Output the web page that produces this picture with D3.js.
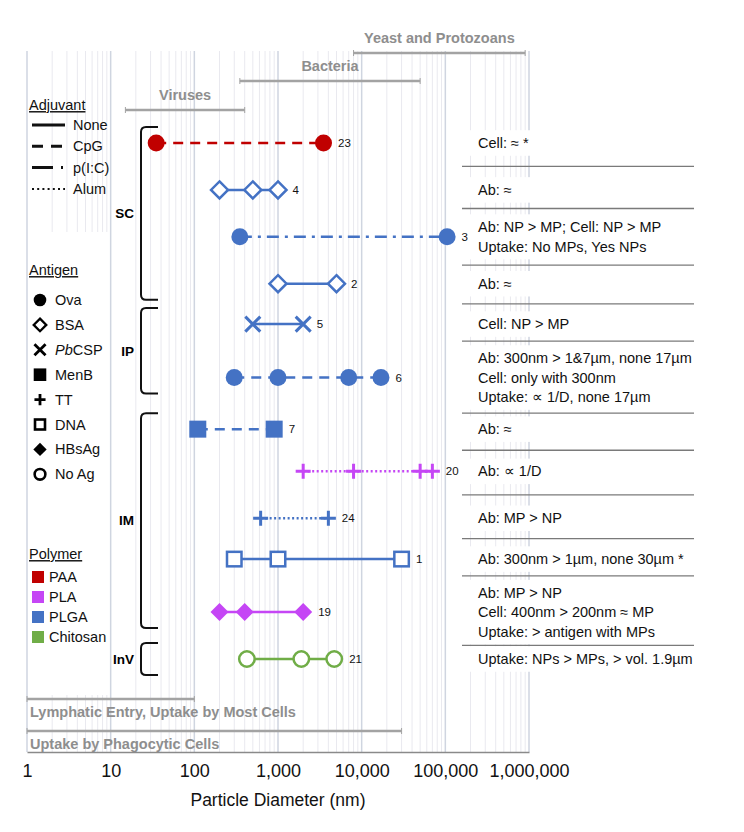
<!DOCTYPE html>
<html>
<head>
<meta charset="utf-8">
<script src="https://cdn.jsdelivr.net/npm/d3@7"></script>
<style>
  body { margin: 0; background: #fff; }
  svg  { display: block; font-family: "Liberation Sans", Arial, sans-serif; }
</style>
</head>
<body>
<svg id="chart" width="744" height="832"></svg>
<script>
'use strict';

// one entry per study row, top to bottom
var refs      = [23, 4, 3, 2, 5, 6, 7, 20, 24, 1, 19, 21]
  , rowPos    = [1, 2, 3, 4, 4.86, 6, 7.1, 8, 9, 9.87, 11, 12]
  , routes    = ['SC','SC','SC','SC','IP','IP','IM','IM','IM','IM','IM','InV']
  , polymers  = ['PAA','PLGA','PLGA','PLGA','PLGA','PLGA','PLGA','PLA','PLGA','PLGA','PLA','Chitosan']
  , antigens  = ['Ova','BSA','Ova','BSA','PbCSP','Ova','MenB','TT','TT','DNA','HBsAg','No Ag']
  , adjuvants = ['CpG','None','p(I:C)','None','None','CpG','CpG','Alum','Alum','None','None','None']
  , sizes     = [
      [35, 3500],
      [200, 500, 1000],
      [350, 105000],
      [1000, 5000],
      [500, 2000],
      [300, 1000, 7000, 17000],
      [110, 900],
      [2000, 8000, 50000, 70000],
      [620, 4000],
      [300, 1000, 30000],
      [200, 400, 2000],
      [425, 1900, 4700]
    ]
  , findings  = [
      ['Cell: \u2248 *'],
      ['Ab: \u2248'],
      ['Ab: NP > MP; Cell: NP > MP', 'Uptake: No MPs, Yes NPs'],
      ['Ab: \u2248'],
      ['Cell: NP > MP'],
      ['Ab: 300nm > 1&7\u00b5m, none 17\u00b5m', 'Cell: only with 300nm', 'Uptake: \u221d 1/D, none 17\u00b5m'],
      ['Ab: \u2248'],
      ['Ab: \u221d 1/D'],
      ['Ab: MP > NP'],
      ['Ab: 300nm > 1\u00b5m, none 30\u00b5m *'],
      ['Ab: MP > NP', 'Cell: 400nm > 200nm \u2248 MP', 'Uptake: > antigen with MPs'],
      ['Uptake: NPs > MPs, > vol. 1.9\u00b5m']
    ];

// reference size ranges (nm)
var rangeNames = ['Yeast and Protozoans', 'Bacteria', 'Viruses',
                  'Lymphatic Entry, Uptake by Most Cells', 'Uptake by Phagocytic Cells']
  , rangeFrom  = [8000, 350, 15, 1, 1]
  , rangeTo    = [900000, 50000, 400, 100, 30000];

var routeNames    = ['SC', 'IP', 'IM', 'InV']
  , adjuvantNames = ['None', 'CpG', 'p(I:C)', 'Alum']
  , antigenNames  = ['Ova', 'BSA', 'PbCSP', 'MenB', 'TT', 'DNA', 'HBsAg', 'No Ag']
  , polymerNames  = ['PAA', 'PLA', 'PLGA', 'Chitosan']
  , tickValues    = [1, 10, 100, 1000, 10000, 100000, 1000000];

// styles
var polymerColor = { 'PAA': '#c00000', 'PLA': '#c546f5', 'PLGA': '#4472c4', 'Chitosan': '#70ad47' }
  , adjuvantDash = { 'None': null, 'CpG': '10,7', 'p(I:C)': '12,6,3,6', 'Alum': '2,2.5' }
  , gray = '#a3a3a3'
  , grayText = '#8e8e8e';

var svg = d3.select('#chart');

var x = d3.scaleLog().domain([1, 1e6]).range([27, 529])
  , y = d3.scaleLinear().domain([1, 12]).range([143, 659])
  , gridTop = 51
  , axisY = 752;

// gridlines
var grid = svg.append('g');
grid.selectAll('line')
    .data(x.ticks())
  .enter().append('line')
    .attr('x1', function(d){ return x(d); })
    .attr('x2', function(d){ return x(d); })
    .attr('y1', gridTop)
    .attr('y2', axisY)
    .attr('stroke', function(d){ return isMajor(d) ? '#cfd5e0' : '#e9e9ef'; })
    .attr('stroke-width', function(d){ return isMajor(d) ? 1.5 : 1; });

function isMajor(d){
  return Math.abs(Math.log10(d) - Math.round(Math.log10(d))) < 1e-9;
}

// white backings
svg.append('rect')
    .attr('x', 29).attr('y', 232).attr('width', 80).attr('height', 463)
    .attr('fill', '#fff');

var lineH = 19.5, noteX = 478;
var blocks = findings.map(function(lines, i){
  var cy = y(rowPos[i]), h = lines.length * lineH;
  return { lines: lines, cy: cy, top: cy - h / 2, bottom: cy + h / 2 };
});

svg.append('g').selectAll('rect')
    .data(blocks)
  .enter().append('rect')
    .attr('x', 470).attr('width', 226)
    .attr('y', function(d){ return d.top - 3; })
    .attr('height', function(d){ return d.bottom - d.top + 6; })
    .attr('fill', '#fff');

// size range bars
var bandY = [53, 81, 110, 699, 731];
var bands = svg.append('g');
rangeNames.forEach(function(name, i){
  var x0 = x(rangeFrom[i]), x1 = x(rangeTo[i]), by = bandY[i];
  bands.append('line')
      .attr('x1', x0).attr('x2', x1).attr('y1', by).attr('y2', by)
      .attr('stroke', gray).attr('stroke-width', 2.5);
  [x0, x1].forEach(function(cx){
    bands.append('line')
        .attr('x1', cx).attr('x2', cx).attr('y1', by - 3).attr('y2', by + 3)
        .attr('stroke', gray).attr('stroke-width', 1);
  });
  var top = i < 3;
  bands.append('text')
      .attr('x', top ? (x0 + x1) / 2 : 30)
      .attr('y', top ? by - 15 : by + 13)
      .attr('dy', '0.35em')
      .attr('text-anchor', top ? 'middle' : 'start')
      .attr('font-size', '14.5px')
      .attr('font-weight', 'bold')
      .attr('fill', grayText)
      .text(name);
});

// findings text + separators
var notes = svg.append('g').attr('font-size', '14.5px').attr('fill', '#111');
blocks.forEach(function(b, i){
  b.lines.forEach(function(t, j){
    notes.append('text')
        .attr('x', noteX)
        .attr('y', b.top + lineH * (j + 0.5))
        .attr('dy', '0.35em')
        .text(t);
  });
  if (i < blocks.length - 1){
    var sy = (b.bottom + blocks[i + 1].top) / 2;
    notes.append('line')
        .attr('x1', 462).attr('x2', 694).attr('y1', sy).attr('y2', sy)
        .attr('stroke', '#7a7a7a').attr('stroke-width', 1.3);
  }
});

// route brackets
var brackets = svg.append('g');
routeNames.forEach(function(r){
  var rows = rowPos.filter(function(p, i){ return routes[i] === r; })
    , y0 = y(d3.min(rows)) - 16
    , y1 = y(d3.max(rows)) + 16
    , bx = 141, ex = 158, rr = 5;
  brackets.append('path')
      .attr('d', 'M' + ex + ',' + y0 + 'L' + (bx + rr) + ',' + y0 +
                 'Q' + bx + ',' + y0 + ' ' + bx + ',' + (y0 + rr) +
                 'L' + bx + ',' + (y1 - rr) +
                 'Q' + bx + ',' + y1 + ' ' + (bx + rr) + ',' + y1 +
                 'L' + ex + ',' + y1)
      .attr('fill', 'none').attr('stroke', '#111').attr('stroke-width', 2);
  brackets.append('text')
      .attr('x', 134).attr('y', (y0 + y1) / 2).attr('dy', '0.35em')
      .attr('text-anchor', 'end')
      .attr('font-size', '13.5px').attr('font-weight', 'bold')
      .text(r);
});

// markers
var markerSize = { 'Ova': 8.5, 'BSA': 8.5, 'PbCSP': 7.5, 'MenB': 8.5, 'TT': 7.5, 'DNA': 8.5, 'HBsAg': 9, 'No Ag': 9 };

function drawMarker(g, type, s, color, sw){
  var diamond = 'M0,' + (-s) + 'L' + s + ',0L0,' + s + 'L' + (-s) + ',0Z';
  switch (type){
    case 'Ova':
      g.append('circle').attr('r', s).attr('fill', color); break;
    case 'BSA':
      g.append('path').attr('d', diamond).attr('fill', '#fff')
       .attr('stroke', color).attr('stroke-width', sw); break;
    case 'PbCSP':
      g.append('path').attr('d', 'M' + (-s) + ',' + (-s) + 'L' + s + ',' + s + 'M' + (-s) + ',' + s + 'L' + s + ',' + (-s))
       .attr('stroke', color).attr('stroke-width', sw + 0.5).attr('fill', 'none'); break;
    case 'MenB':
      g.append('rect').attr('x', -s).attr('y', -s).attr('width', 2 * s).attr('height', 2 * s)
       .attr('fill', color); break;
    case 'TT':
      g.append('path').attr('d', 'M' + (-s) + ',0H' + s + 'M0,' + (-s) + 'V' + s)
       .attr('stroke', color).attr('stroke-width', sw + 0.5).attr('fill', 'none'); break;
    case 'DNA':
      g.append('rect').attr('x', -s + sw / 2).attr('y', -s + sw / 2)
       .attr('width', 2 * s - sw).attr('height', 2 * s - sw)
       .attr('fill', '#fff').attr('stroke', color).attr('stroke-width', sw); break;
    case 'HBsAg':
      g.append('path').attr('d', diamond).attr('fill', color); break;
    case 'No Ag':
      g.append('circle').attr('r', s - sw / 2).attr('fill', '#fff')
       .attr('stroke', color).attr('stroke-width', sw); break;
  }
}

// series
var series = svg.append('g');
sizes.forEach(function(vals, i){
  var color = polymerColor[polymers[i]]
    , cy = y(rowPos[i])
    , s = markerSize[antigens[i]];
  series.append('line')
      .attr('x1', x(d3.min(vals))).attr('x2', x(d3.max(vals)))
      .attr('y1', cy).attr('y2', cy)
      .attr('stroke', color).attr('stroke-width', 2.5)
      .attr('stroke-dasharray', adjuvantDash[adjuvants[i]]);
  vals.forEach(function(v){
    var g = series.append('g').attr('transform', 'translate(' + x(v) + ',' + cy + ')');
    drawMarker(g, antigens[i], s, color, 2.5);
  });
  series.append('text')
      .attr('x', x(d3.max(vals)) + s + 6).attr('y', cy).attr('dy', '0.35em')
      .attr('font-size', '11.5px').attr('fill', '#111')
      .text(refs[i]);
});

// legends
var legend = svg.append('g').attr('font-size', '14.5px').attr('fill', '#111');

function header(label, hy){
  legend.append('text')
      .attr('x', 29).attr('y', hy).attr('dy', '0.35em')
      .style('text-decoration', 'underline')
      .text(label);
}

header('Adjuvant', 105);
var legendDash = { 'None': null, 'CpG': '11,8', 'p(I:C)': '21,8,2,10', 'Alum': '2,3.2' };
adjuvantNames.forEach(function(a, i){
  var ly = 125 + i * 21.3;
  legend.append('line')
      .attr('x1', 32).attr('x2', 65).attr('y1', ly).attr('y2', ly)
      .attr('stroke', '#111').attr('stroke-width', a === 'Alum' ? 2 : 3)
      .attr('stroke-dasharray', legendDash[a]);
  legend.append('text').attr('x', 73).attr('y', ly).attr('dy', '0.35em').text(a);
});

header('Antigen', 270);
antigenNames.forEach(function(a, i){
  var ly = 300 + i * 24.9;
  var g = legend.append('g').attr('transform', 'translate(40,' + ly + ')');
  drawMarker(g, a, markerSize[a] * 0.74, '#000', a === 'DNA' || a === 'No Ag' ? 2.6 : 2.3);
  var t = legend.append('text').attr('x', 55).attr('y', ly).attr('dy', '0.35em');
  if (a === 'PbCSP'){
    t.append('tspan').attr('font-style', 'italic').text('Pb');
    t.append('tspan').text('CSP');
  } else {
    t.text(a);
  }
});

header('Polymer', 554);
polymerNames.forEach(function(p, i){
  var ly = 577 + i * 20;
  legend.append('rect')
      .attr('x', 32).attr('y', ly - 6).attr('width', 12).attr('height', 12)
      .attr('fill', polymerColor[p]);
  legend.append('text').attr('x', 49).attr('y', ly).attr('dy', '0.35em').text(p);
});

// x axis
var axis = svg.append('g')
    .attr('transform', 'translate(0,' + axisY + ')')
    .call(d3.axisBottom(x)
            .tickValues(tickValues)
            .tickFormat(d3.format(','))
            .tickSize(0)
            .tickPadding(12));
axis.select('.domain').attr('stroke', '#8a8a8a').attr('stroke-width', 1.5);
axis.selectAll('text')
    .attr('font-family', '"Liberation Sans", Arial, sans-serif')
    .attr('font-size', '18px')
    .attr('fill', '#111');

svg.append('text')
    .attr('x', 278).attr('y', 800).attr('dy', '0.35em')
    .attr('text-anchor', 'middle')
    .attr('font-size', '17.5px').attr('fill', '#111')
    .text('Particle Diameter (nm)');
</script>
</body>
</html>
